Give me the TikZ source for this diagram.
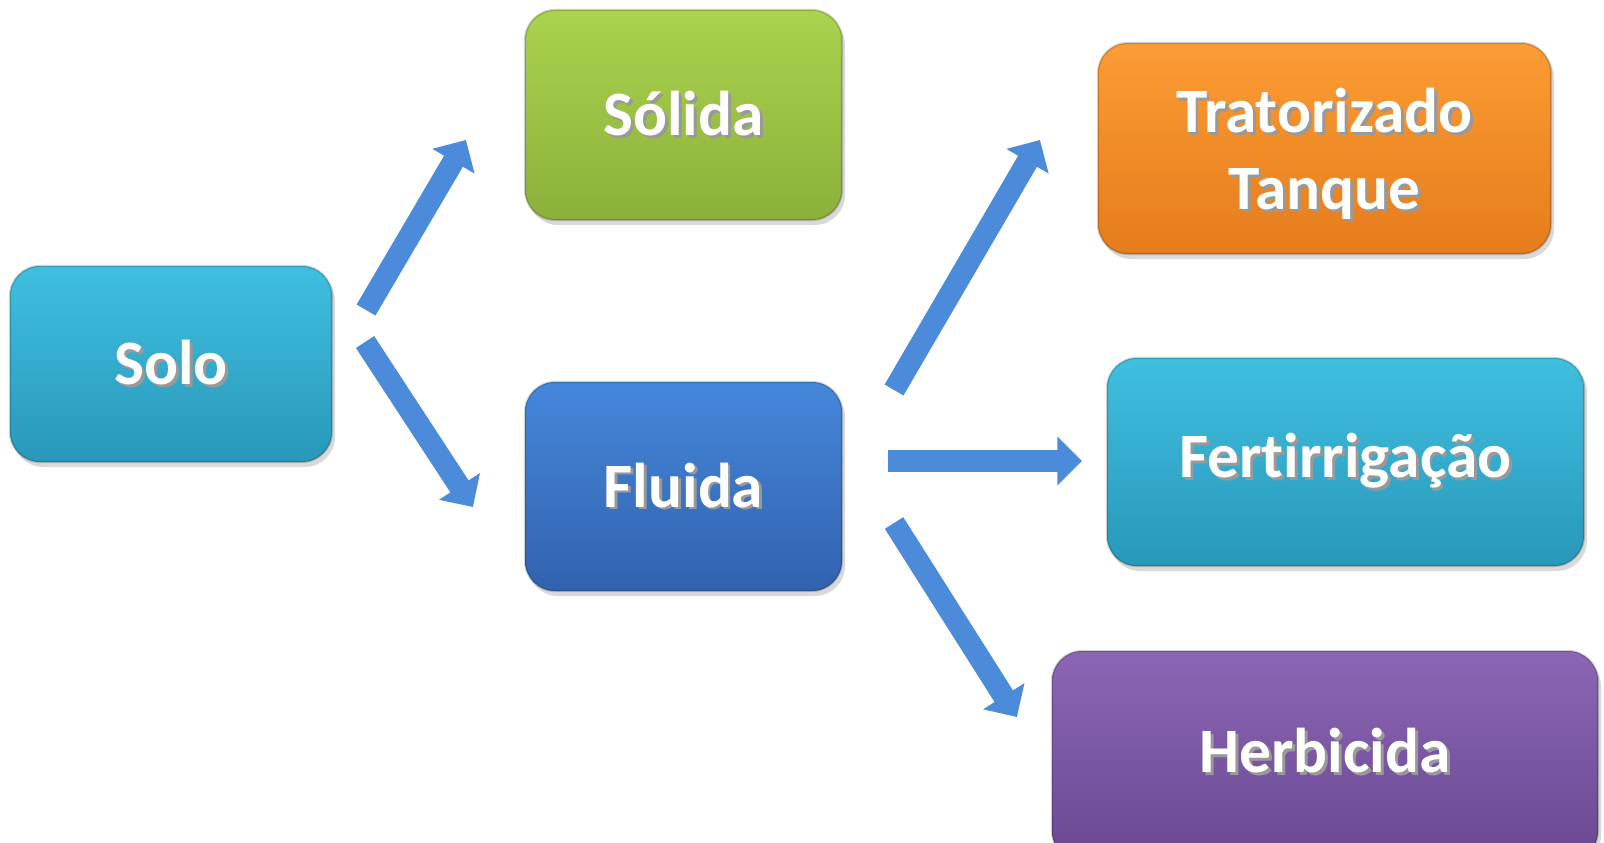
\documentclass[tikz,border=0pt]{standalone}
\usepackage{fontspec}
\setmainfont[Ligatures=NoCommon]{Carlito}
\usetikzlibrary{arrows.meta,shadows}

\definecolor{cyantop}{HTML}{40BFDF}
\definecolor{cyanbot}{HTML}{2898BA}
\definecolor{greentop}{HTML}{AAD34E}
\definecolor{greenbot}{HTML}{8CB03A}
\definecolor{bluetop}{HTML}{4587DA}
\definecolor{bluebot}{HTML}{3262AE}
\definecolor{orangetop}{HTML}{FC9C34}
\definecolor{orangebot}{HTML}{E57C1C}
\definecolor{purpletop}{HTML}{8B66B6}
\definecolor{purplebot}{HTML}{6A4890}
\definecolor{arrowblue}{HTML}{4C8BD9}

\newcommand{\shtxt}[1]{\makebox[0pt][l]{\kern0.8pt\raisebox{-0.8pt}{\color{black!40}#1}}#1}

\begin{document}
\begin{tikzpicture}[box/.style={rounded corners=0.3cm,inner sep=0pt,align=center,
      draw=black,draw opacity=0.18,line width=0.6pt,
      text=white,font=\fontsize{18}{22}\selectfont\bfseries,
      drop shadow={shadow xshift=0.03cm,shadow yshift=-0.05cm,opacity=0.3}},
    flow/.style={draw=arrowblue,line width=6.2pt,-{Triangle[width=13.5pt,length=7pt]}}]
    \useasboundingbox (0,0) rectangle (16.04,8.42);

    \node[box,top color=cyantop,bottom color=cyanbot,minimum width=3.22cm,minimum height=1.96cm] (solo) at (1.71,4.78) {\shtxt{Solo}};
    \node[box,top color=greentop,bottom color=greenbot,minimum width=3.17cm,minimum height=2.10cm] (solida) at (6.835,7.27) {\shtxt{Sólida}};
    \node[box,top color=bluetop,bottom color=bluebot,minimum width=3.17cm,minimum height=2.09cm] (fluida) at (6.835,3.555) {\shtxt{Fluida}};
    \node[box,top color=orangetop,bottom color=orangebot,minimum width=4.53cm,minimum height=2.11cm] (trat) at (13.245,6.935) {\rule{0pt}{16.5pt}\shtxt{Tratorizado}\\\shtxt{Tanque}};
    \node[box,top color=cyantop,bottom color=cyanbot,minimum width=4.77cm,minimum height=2.08cm] (fert) at (13.455,3.80) {\shtxt{Fertirrigação}};
    \node[box,top color=purpletop,bottom color=purplebot,minimum width=5.46cm,minimum height=2.10cm] (herb) at (13.25,0.86) {\shtxt{Herbicida}\rule[-3pt]{0pt}{0pt}};

    \draw[flow] ([shift={(0.33,0.54)}]solo.east) -- ([shift={(-0.58,-0.25)}]solida.west);
    \draw[flow] ([shift={(0.32,0.22)}]solo.east) -- ([shift={(-0.51,-0.205)}]fluida.west);
    \draw[flow] ([shift={(0.51,0.965)}]fluida.east) -- ([shift={(-0.57,0.085)}]trat.west);
    \draw[flow] ([shift={(0.45,0.255)}]fluida.east) -- ([shift={(-0.24,0.01)}]fert.west);
    \draw[flow] ([shift={(0.51,-0.365)}]fluida.east) -- ([shift={(-0.34,0.39)}]herb.west);
\end{tikzpicture}
\end{document}
